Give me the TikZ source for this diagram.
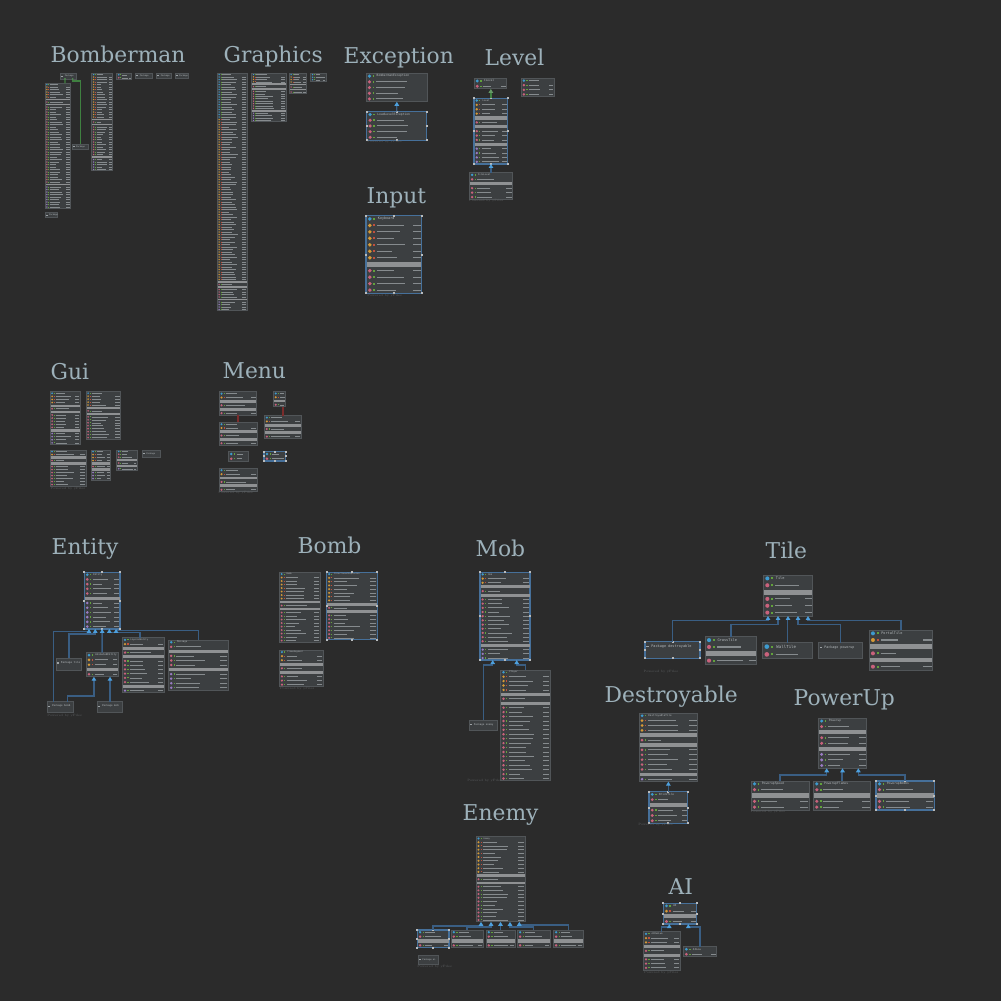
\documentclass[tikz,border=0pt]{standalone}
\usepackage{fontspec}
\setmonofont{DejaVu Sans Mono}
\newfontfamily\ttlfont{DejaVu Serif}
\usetikzlibrary{arrows.meta,calc}

\definecolor{bg}{HTML}{2B2B2B}
\definecolor{boxfill}{HTML}{3C3F41}
\definecolor{boxline}{HTML}{515558}
\definecolor{selline}{HTML}{46709A}
\definecolor{handlegray}{HTML}{B9BCBE}
\definecolor{sepgray}{HTML}{8F9193}
\definecolor{txtgray}{HTML}{868B8E}
\definecolor{hdtext}{HTML}{B4B9BC}
\definecolor{ttlblue}{HTML}{9DB1BA}
\definecolor{yfgray}{HTML}{5C5F61}
\definecolor{lnk}{HTML}{3A5E83}
\definecolor{tipblue}{HTML}{4DA0DE}
\definecolor{redlnk}{HTML}{7B2C2C}
\definecolor{grnlnk}{HTML}{3F8040}
\definecolor{ich}{HTML}{3E9BCF}
\definecolor{icb}{HTML}{3E9BCF}
\definecolor{icf}{HTML}{D59A36}
\definecolor{icc}{HTML}{C9627C}
\definecolor{icm}{HTML}{C9627C}
\definecolor{icp}{HTML}{9A7CC4}
\definecolor{visg}{HTML}{62A23C}
\definecolor{visr}{HTML}{C0503E}
\definecolor{folder}{HTML}{9EA3A6}

\newcount\rowcnt
% one member row: type, x, y, width, row height
\newcommand{\umlrow}[5]{%
  \pgfmathsetmacro\ty{#3+(\the\rowcnt-0.5)*#5}%
  \pgfmathsetmacro\lw{max(0.45,0.17*#5)*0.1}%
  \if s#1
    \fill[sepgray] (#2+0.5,\ty-0.37*#5) rectangle (#2+#4-0.5,\ty+0.37*#5);
  \else
    \fill[ic#1] (#2+0.5*#5+0.6,\ty) circle[radius=0.3*#5];
    \if f#1\def\vc{visr}\else\def\vc{visg}\fi
    \fill[\vc] (#2+1.2*#5+0.6,\ty) ++(-0.14*#5,-0.14*#5) rectangle ++(0.28*#5,0.28*#5);
    \pgfmathsetmacro\la{(0.22+0.3*rnd)*#4}%
    \draw[txtline,line width=\lw mm] (#2+1.6*#5+0.9,\ty) -- ++(\la,0);
    \if c#1\else
      \draw[txtline,line width=\lw mm] (#2+#4-1,\ty) -- ++(-0.13*#4,0);
    \fi
  \fi}
% header row: x, y, width, row height, title
\newcommand{\umlhead}[5]{%
  \pgfmathsetmacro\ty{#2+0.5*#4}%
  \pgfmathsetmacro\lw{max(0.45,0.17*#4)*0.1}%
  \pgfmathsetmacro\fs{max(0.6,0.15*#4)}%
  \fill[ich] (#1+0.5*#4+0.6,\ty) circle[radius=0.3*#4];
  \fill[visg] (#1+1.2*#4+0.6,\ty) ++(-0.14*#4,-0.14*#4) rectangle ++(0.28*#4,0.28*#4);
  \ifx\relax#5\relax
    \draw[txtline,line width=\lw mm] (#1+1.6*#4+0.9,\ty) -- ++(0.3*#3,0);
  \else
    \node[anchor=west,inner sep=0,text=hdtext,font=\ttfamily\fontsize{\fs}{\fs}\selectfont] at (#1+1.6*#4+0.9,\ty) {#5};
  \fi}
% class box: options, name, x, y, width, row height, title, rows
\newcommand{\umlclass}[8][]{%
  \global\rowcnt=1
  \foreach \rt/\rn in {#8}{\global\advance\rowcnt by \rn}
  \pgfmathsetmacro\bh{\the\rowcnt*#6}%
  \node[classbox,#1,minimum width=#5*0.1mm,minimum height=\bh*0.1mm] (#2) at (#3,#4) {};
  \umlhead{#3}{#4}{#5}{#6}{#7}
  \global\rowcnt=1
  \foreach \rt/\rn in {#8}{\foreach \j in {1,...,\rn}{%
    \global\advance\rowcnt by 1
    \expandafter\umlrow\expandafter{\rt}{#3}{#4}{#5}{#6}}}%
}
% package box: options, name, x, y, width, height, package
\newcommand{\umlpkg}[7][]{%
  \node[classbox,#1,minimum width=#5*0.1mm,minimum height=#6*0.1mm] (#2) at (#3,#4) {};
  \pgfmathsetmacro\fs{max(0.6,0.05*#6+0.17)}%
  \pgfmathsetmacro\ty{#4+min(0.5*#6,4.6)}%
  \fill[folder] (#3+1.3*\fs,\ty-0.8*\fs) rectangle ++(3.1*\fs,1.6*\fs);
  \node[anchor=west,inner sep=0,text=hdtext,font=\ttfamily\fontsize{\fs}{\fs}\selectfont] (#2t) at (#3+5.6*\fs,\ty) {Package #7};}
\newcommand{\selbox}[1]{%
  \foreach \a in {north west,north,north east,east,south east,south,south west,west}
    \fill[handle] (#1.\a) ++(-1,-1) rectangle ++(2,2);}

\begin{document}
\begin{tikzpicture}[x=0.1mm,y=-0.1mm,
  classbox/.style={draw=boxline,fill=boxfill,line width=0.25pt,anchor=north west,inner sep=0,outer sep=0},
  sel/.style={draw=selline,line width=0.35pt},
  handle/.style={fill=handlegray},
  txtline/.style={draw=txtgray},
  ttl/.style={text=ttlblue,font=\ttlfont\fontsize{6.2}{7}\selectfont,anchor=base west,inner sep=0},
  yf/.style={text=yfgray,font=\fontsize{0.9}{1}\selectfont,anchor=west,inner sep=0},
  inh/.style={draw=lnk,line width=0.4pt,-{Triangle[length=0.4mm,width=0.45mm,color=tipblue]}},
  impl/.style={draw=grnlnk,line width=0.4pt,-{Triangle[length=0.4mm,width=0.45mm,color=grnlnk!80!white]}},
  redl/.style={draw=redlnk,line width=0.4pt},
  grnl/.style={draw=grnlnk,line width=0.4pt}]
\pgfmathsetseed{12}
\fill[bg] (0,0) rectangle (1001,1001);
% package titles
\foreach \n/\x/\y in {Bomberman/50/63,Graphics/223/63,Exception/343/64,Level/484/66,Input/366/203,
  Gui/50/379,Menu/222/378,Entity/51/554,Bomb/297/553,Mob/475/556,Tile/765/558,
  Destroyable/604/702,PowerUp/793/705,Enemy/462/820,AI/668/894}
  \node[ttl] (t\n) at (\x,\y) {\n};

% Bomberman
\umlpkg{bmp0}{60.7}{73.3}{16}{5.7}{}
\umlclass{bm0}{45}{83.3}{25.7}{2.5}{}{f/5,s/1,c/1,s/1,m/31,s/1,p/9}
\umlclass{bm1}{91.7}{73.3}{21}{2.5}{}{f/17,s/1,c/1,s/1,m/12,s/1,p/5}
\umlclass{bm2}{116.7}{73.3}{15}{3}{}{m/1}
\umlpkg{bmp1}{72}{144}{16}{5.3}{}
\umlpkg{bmp2}{135.7}{73.3}{17}{5.3}{}
\umlpkg{bmp3}{156.7}{73.3}{14.3}{5.3}{}
\umlpkg{bmp4}{175}{73.3}{13.3}{5.3}{}
\umlpkg{bmp5}{45}{212.7}{12}{5}{}
\draw[grnl] ($(bmp0.south)+(-3.7,0)$) -- ($(bm0.north)+(7.15,0)$);
\draw[grnl] ($(bmp0.south)+(4,0)$) |- ($(bmp1.north)+(0.7,-63)$) -- ($(bmp1.north)+(0.7,0)$);
\foreach \dx in {-3.7,4} \fill[grnlnk!90!white] ($(bmp0.south)+(\dx,0)$) circle[radius=1];

% Graphics
\umlclass{gr0}{217.3}{73.3}{30}{2.5}{}{b/17,f/65,s/1,c/1,s/1,m/4,s/1,p/4}
\umlclass{gr1}{251.7}{73.3}{34.3}{2.42}{}{f/3,s/1,c/1,s/1,m/8,s/1,p/4}
\umlclass{gr2}{289.3}{73.3}{17.4}{2.5}{}{f/3,s/1,c/1,s/1,m/1}
\umlclass{gr3}{310.7}{73.3}{15.3}{2.6}{}{b/2}

% Exception
\umlclass{ex0}{366}{73.3}{61.7}{5.7}{BombermanException}{c/4}
\umlclass[sel]{ex1}{366.7}{111.7}{60}{5.7}{LoadLevelException}{c/4}
\selbox{ex1}
\draw[inh] (ex1.north) -- (ex0.south);

% Level
\umlclass{lv0}{474}{78.3}{32.7}{5.3}{ILevel}{m/1}
\umlclass[sel]{lv1}{474}{98.3}{33.7}{4.38}{Level}{f/3,s/1,c/1,s/1,m/3,s/1,p/4}
\selbox{lv1}
\umlclass{lv2}{469.3}{172.7}{43.4}{4.43}{FileLevel}{c/1,s/1,m/3}
\umlclass{lv3}{521}{78.3}{33}{4.6}{}{m/3}
\draw[impl] (lv1.north) -- (lv1.north |- lv0.south);
\draw[inh] (lv2.north) -- (lv2.north |- lv1.south);

% Input
\umlclass[sel]{in0}{366}{215.7}{55.7}{6.47}{Keyboard}{f/6,s/1,m/4}
\selbox{in0}

% Gui
\umlclass{gu0}{50}{391.7}{30}{3.1}{}{f/3,s/1,c/1,s/1,m/5,s/1,p/4}
\umlclass{gu1}{86}{391.7}{34.7}{2.96}{}{f/4,s/1,c/1,s/1,m/8}
\umlclass{gu2}{50}{450}{36}{3}{}{f/1,s/1,c/1,s/1,m/7}
\umlclass{gu3}{91}{450}{19.7}{3}{}{f/3,s/1,m/1,s/1,p/3}
\umlclass{gu4}{116.7}{450}{20.6}{2.9}{}{c/2,s/1,m/1,s/1,p/1}
\umlpkg{gu5}{142.3}{450}{17.7}{7.7}{}

% Menu
\umlclass{mn0}{219}{391.7}{37.7}{3.9}{}{f/1,s/1,c/1,s/1,m/1}
\umlclass{mn1}{273.3}{391.7}{12.4}{3.75}{}{f/1,s/1,c/1}
\umlclass{mn2}{219}{422.3}{38.3}{3.8}{}{f/1,s/1,c/1,s/1,m/1}
\umlclass{mn3}{264.3}{415.7}{37}{3.8}{}{f/1,s/1,c/1,s/1,m/1}
\umlclass{mn4}{228.3}{451.7}{20}{4.65}{}{c/1}
\umlclass[sel]{mn5}{264}{451.7}{21.7}{4.65}{}{c/1}
\selbox{mn5}
\umlclass{mn6}{219}{468.3}{38.3}{3.9}{}{f/1,s/1,c/1,s/1,m/1}
\draw[redl] (mn2.north) -- (mn2.north |- mn0.south);
\draw[redl] (mn3.north) -- (mn3.north |- mn1.south);

% Entity
\umlclass[sel]{en0}{84.3}{572.3}{35.7}{4.72}{Entity}{m/4,s/1,p/6}
\selbox{en0}
\umlclass{en1}{86}{652.7}{32.3}{4.8}{AnimatedEntity}{f/2,s/1,m/1}
\umlclass{en2}{122.3}{637.7}{41.7}{4.23}{LayeredEntity}{f/1,s/1,c/1,s/1,m/6,s/1,p/1}
\umlclass{en3}{168.3}{640}{60}{4.55}{Message}{c/1,s/1,m/3,s/1,p/4}
\umlpkg{enp0}{56}{658.3}{25.7}{11.7}{tile}
\umlpkg{enp1}{47.3}{701.7}{26}{11}{bomb}
\umlpkg{enp2}{97.3}{701.7}{25.4}{11}{mob}
\draw[inh] ($(enp1.north)+(-7,0)$) |- ($(en0.south)+(-13.2,2.7)$) -- ($(en0.south)+(-13.2,0)$);
\draw[inh] (enp0.north) |- ($(en0.south)+(-6.9,5)$) -- ($(en0.south)+(-6.9,0)$);
\draw[inh] (en1.north) -- (en0.south);
\draw[inh] ($(en2.north)+(-3,0)$) |- ($(en0.south)+(7.2,3.8)$) -- ($(en0.south)+(7.2,0)$);
\draw[inh] (en3.north) |- ($(en0.south)+(13.9,1.8)$) -- ($(en0.south)+(13.9,0)$);
\draw[inh] ($(enp1.north)+(7,0)$) |- ($(en1.south)+(-8.2,19.3)$) -- ($(en1.south)+(-8.2,0)$);
\draw[inh] (enp2.north) -- (enp2.north |- en1.south);

% Bomb
\umlclass{bo0}{279.3}{572.3}{40.7}{3.5}{Bomb}{f/7,s/1,c/1,s/1,m/9}
\umlclass[sel]{bo1}{326.7}{572.3}{50.6}{3.75}{DirectionalExplosion}{f/7,s/1,c/1,s/1,m/7}
\selbox{bo1}
\umlclass{bo2}{279.3}{650}{44}{4.07}{FlameSegment}{f/2,s/1,c/1,s/1,m/3}

% Mob
\umlclass[sel]{mo0}{480}{572.3}{50}{4.18}{Mob}{f/2,s/1,c/1,s/1,m/11,s/1,p/3}
\selbox{mo0}
\umlclass{mo1}{500.7}{670}{49.3}{4.43}{Player}{f/4,s/1,c/1,s/1,m/17}
\umlpkg{mop0}{469.3}{720}{28}{10.7}{enemy}
\draw[inh] (mop0.north) |- ($(mo0.south)+(-12.3,5)$) -- ($(mo0.south)+(-12.3,0)$);
\draw[inh] (mo1.north) |- ($(mo0.south)+(11.7,5)$) -- ($(mo0.south)+(11.7,0)$);

% Tile
\umlclass{ti0}{763.3}{575}{49.4}{6.83}{Tile}{c/1,s/1,m/3}
\umlpkg[sel]{tip0}{645}{641.7}{55}{16.6}{destroyable}
\selbox{tip0}
\umlclass{ti1}{705}{636.7}{51.7}{6.83}{GrassTile}{c/1,s/1,m/1}
\umlclass{ti2}{762.3}{642.7}{50.4}{7.8}{WallTile}{c/1}
\umlpkg{tip1}{818.3}{642.7}{44.4}{15.6}{powerup}
\umlclass{ti3}{869}{630}{63.7}{6.67}{PortalTile}{f/1,s/1,c/1,s/1,m/1}
\foreach \c/\dx/\dy in {tip0/-20/4.7,ti1/-10/8.3,ti2/0/3,tip1/10/8.3,ti3/20/4.7}
  \draw[inh] (\c.north) |- ($(ti0.south)+(\dx,\dy)$) -- ($(ti0.south)+(\dx,0)$);

% Destroyable
\umlclass{de0}{639}{713.3}{58.7}{4.88}{DestroyableTile}{f/3,s/1,c/1,s/1,m/5,s/1,p/1}
\umlclass[sel]{de1}{649}{791.7}{38.7}{5.27}{BrickTile}{c/1,s/1,m/3}
\selbox{de1}
\draw[inh] (de1.north) -- (de0.south);

% PowerUp
\umlclass{pu0}{818.3}{718.3}{48.4}{5.55}{Powerup}{c/1,s/1,m/2,s/1,p/3}
\umlclass{pu1}{751}{781}{58}{5.8}{PowerupSpeed}{c/1,s/1,m/2}
\umlclass{pu2}{813.3}{781}{57.4}{5.8}{PowerupFlames}{c/1,s/1,m/2}
\umlclass[sel]{pu3}{876}{781}{58.3}{5.8}{PowerupBombs}{c/1,s/1,m/2}
\selbox{pu3}
\foreach \c/\dx/\dy in {pu1/-15.8/6.7,pu2/0/3,pu3/15.8/6.7}
  \draw[inh] (\c.north) |- ($(pu0.south)+(\dx,\dy)$) -- ($(pu0.south)+(\dx,0)$);

% Enemy
\umlclass{em0}{476}{836.7}{49}{3.7}{Enemy}{f/9,s/1,c/1,s/1,m/10}
\umlclass[sel]{em1}{417.3}{930}{31.7}{4.4}{}{c/1,s/1,m/1}
\selbox{em1}
\foreach \x/\w [count=\i from 2] in {451/32.3,486/29,517.3/32.7,553.3/30}
  \umlclass{em\i}{\x}{930}{\w}{4.4}{}{c/1,s/1,m/1};
\umlpkg{emp0}{418.3}{955}{20}{9}{ai}
\foreach \c/\dx/\dy in {em1/-19.5/4,em2/-9.5/5,em3/0/3,em4/9.5/5,em5/18.8/3.3}
  \draw[inh] (\c.north) |- ($(em0.south)+(\dx,\dy)$) -- ($(em0.south)+(\dx,0)$);

% AI
\umlclass[sel]{ai0}{663.3}{903.3}{33.4}{5.2}{AI}{f/1,s/1,m/1}
\selbox{ai0}
\umlclass{ai1}{643.3}{931.7}{36.7}{4.25}{AIMedium}{f/2,s/1,c/1,s/1,m/3}
\umlclass{ai2}{683.3}{946.7}{33.4}{5}{AILow}{m/1}
\draw[inh] (ai1.north) |- ($(ai0.south)+(-10.7,2.7)$) -- ($(ai0.south)+(-10.7,0)$);
\draw[inh] (ai2.north) |- ($(ai0.south)+(8.3,2.7)$) -- ($(ai0.south)+(8.3,0)$);

% yFiles marks
\foreach \p [count=\i] in {(366.7,142),(468.3,201),(366.7,296),(50,488.5),(217.7,493),(46.7,715.5),
  (279.3,689),(466.7,781),(643,672),(637.7,825),(750,812),(416.7,966.5),(643.3,973)}
  \node[yf] (yf\i) at \p {Powered by yFiles};
\end{tikzpicture}
\end{document}
